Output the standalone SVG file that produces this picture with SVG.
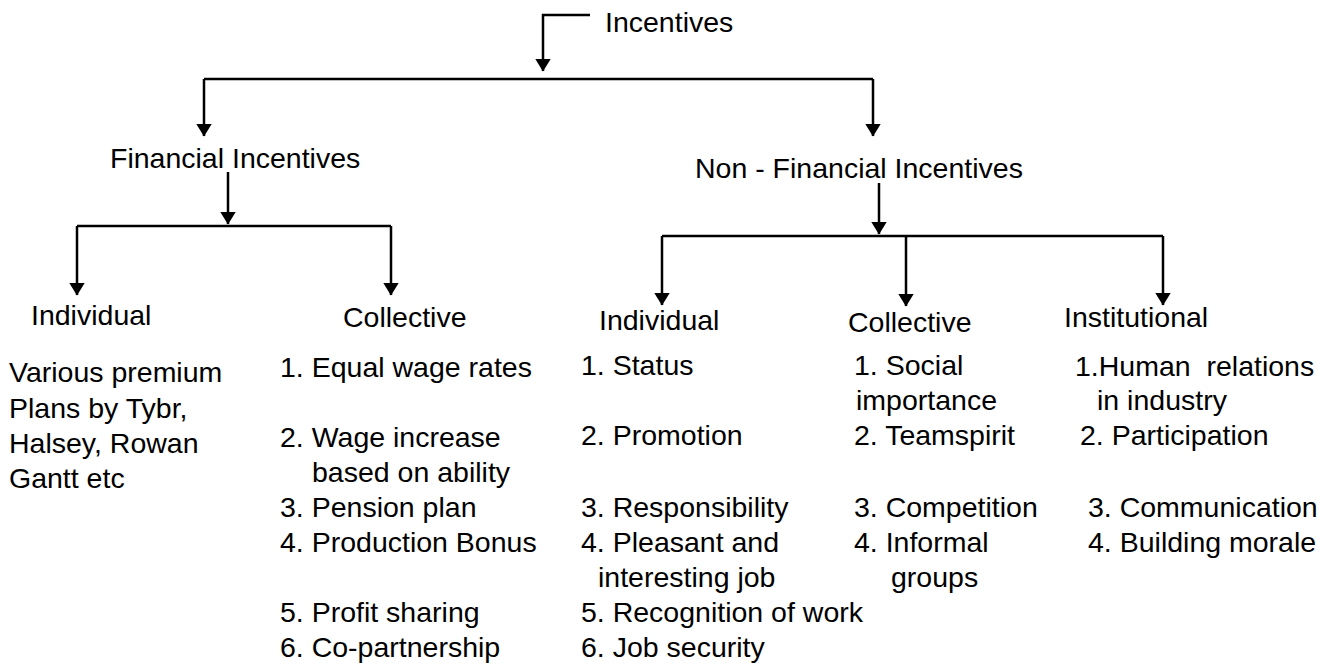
<svg xmlns="http://www.w3.org/2000/svg" width="1336" height="664" viewBox="0 0 1336 664">
<style>
text{font-family:"Liberation Sans",Arial,sans-serif;font-size:28.5px;fill:#000;white-space:pre}
.c{fill:none;stroke:#000;stroke-width:2.5}
</style>
<defs>
<marker id="ah" markerUnits="userSpaceOnUse" markerWidth="13" markerHeight="16" viewBox="0 0 13 16" refX="12.5" refY="8" orient="auto">
<path d="M0,0 L13,8 L0,16 Z" fill="#000"/>
</marker>
</defs>
<rect width="1336" height="664" fill="#fff"/>
<g id="connectors">
<path class="c" d="M590,15 H543 V71" marker-end="url(#ah)"/>
<path class="c" d="M204,79 H873"/>
<path class="c" d="M204,79 V136" marker-end="url(#ah)"/>
<path class="c" d="M873,79 V136" marker-end="url(#ah)"/>
<path class="c" d="M228,172 V224" marker-end="url(#ah)"/>
<path class="c" d="M77,226 H391"/>
<path class="c" d="M77,226 V295" marker-end="url(#ah)"/>
<path class="c" d="M391,226 V295" marker-end="url(#ah)"/>
<path class="c" d="M879,183 V234" marker-end="url(#ah)"/>
<path class="c" d="M662,236 H1163"/>
<path class="c" d="M662,236 V305" marker-end="url(#ah)"/>
<path class="c" d="M906,236 V306" marker-end="url(#ah)"/>
<path class="c" d="M1163,236 V305" marker-end="url(#ah)"/>
</g>
<g id="incentives"><text x="605" y="32">Incentives</text></g>
<g id="financial"><text x="110" y="168">Financial Incentives</text></g>
<g id="nonfinancial"><text x="695" y="178">Non - Financial Incentives</text></g>
<g id="fin-individual">
<text x="31" y="325">Individual</text>
<text x="9" y="382">Various premium</text>
<text x="9" y="418">Plans by Tybr,</text>
<text x="9" y="453">Halsey, Rowan</text>
<text x="9" y="488">Gantt etc</text>
</g>
<g id="fin-collective">
<text x="343" y="327">Collective</text>
<text x="280" y="377">1. Equal wage rates</text>
<text x="280" y="447">2. Wage increase</text>
<text x="312" y="482">based on ability</text>
<text x="280" y="517">3. Pension plan</text>
<text x="280" y="552">4. Production Bonus</text>
<text x="280" y="622">5. Profit sharing</text>
<text x="280" y="657">6. Co-partnership</text>
</g>
<g id="nf-individual">
<text x="599" y="330">Individual</text>
<text x="581" y="375">1. Status</text>
<text x="581" y="445">2. Promotion</text>
<text x="581" y="517">3. Responsibility</text>
<text x="581" y="552">4. Pleasant and</text>
<text x="598" y="587">interesting job</text>
<text x="581" y="622">5. Recognition of work</text>
<text x="581" y="657">6. Job security</text>
</g>
<g id="nf-collective">
<text x="848" y="332">Collective</text>
<text x="854" y="375">1. Social</text>
<text x="856" y="410">importance</text>
<text x="854" y="445">2. Teamspirit</text>
<text x="854" y="517">3. Competition</text>
<text x="854" y="552">4. Informal</text>
<text x="891" y="587">groups</text>
</g>
<g id="nf-institutional">
<text x="1064" y="327">Institutional</text>
<text x="1075" y="376">1.Human  relations</text>
<text x="1097" y="410">in industry</text>
<text x="1080" y="445">2. Participation</text>
<text x="1088" y="517">3. Communication</text>
<text x="1088" y="552">4. Building morale</text>
</g>
</svg>
